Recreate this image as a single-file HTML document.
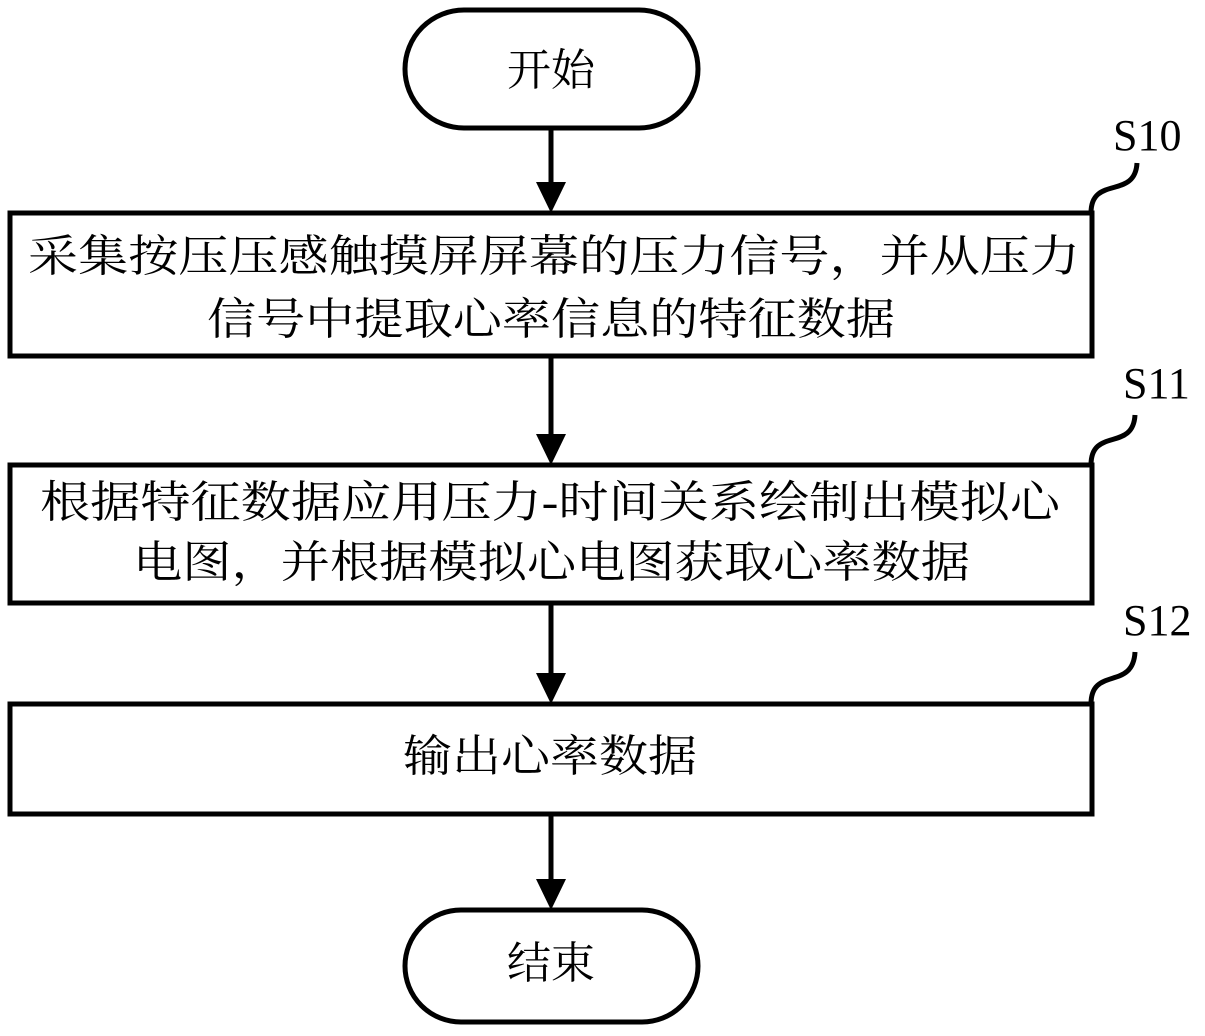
<!DOCTYPE html>
<html><head><meta charset="utf-8"><style>
html,body{margin:0;padding:0;background:#fff;}
svg text{font-family:"Liberation Serif","Noto Serif CJK SC",serif;fill:#000;}
</style></head><body>
<svg width="1205" height="1031" viewBox="0 0 1205 1031" xmlns="http://www.w3.org/2000/svg">
<defs><marker id="a" markerWidth="10" markerHeight="10" refX="10" refY="5" orient="auto" markerUnits="userSpaceOnUse"><path d="M0,0 L10,5 L0,10Z"/></marker></defs>
<g fill="none" stroke="#000" stroke-width="5">
<rect x="405" y="10" width="293" height="118" rx="59"/>
<rect x="10" y="213" width="1082" height="143"/>
<rect x="10" y="465" width="1082" height="138"/>
<rect x="10" y="704" width="1082" height="110"/>
<rect x="405" y="910" width="293" height="112" rx="56"/>
<path d="M1091,213 C1091,175 1135,200 1137,163"/>
<path d="M1091,465 C1091,427 1133,452 1135,415"/>
<path d="M1091,704 C1091,666 1133,691 1135,652"/>
<line x1="551" y1="128" x2="551" y2="185"/>
<line x1="551" y1="356" x2="551" y2="437"/>
<line x1="551" y1="603" x2="551" y2="676"/>
<line x1="551" y1="814" x2="551" y2="882"/>
</g>
<g fill="#000">
<path d="M536,182 L566,182 L551,213Z"/>
<path d="M536,434 L566,434 L551,465Z"/>
<path d="M536,673 L566,673 L551,704Z"/>
<path d="M536,879 L566,879 L551,910Z"/>
</g>
<g font-size="44">
<text x="551" y="85" text-anchor="middle">开始</text>
<text x="28" y="271" textLength="1052" lengthAdjust="spacingAndGlyphs">采集按压压感触摸屏屏幕的压力信号，并从压力</text>
<text x="207" y="334" textLength="688" lengthAdjust="spacingAndGlyphs">信号中提取心率信息的特征数据</text>
<text x="40" y="517" textLength="1020" lengthAdjust="spacingAndGlyphs">根据特征数据应用压力-时间关系绘制出模拟心</text>
<text x="133" y="577" textLength="837" lengthAdjust="spacingAndGlyphs">电图，并根据模拟心电图获取心率数据</text>
<text x="403" y="771" textLength="294" lengthAdjust="spacingAndGlyphs">输出心率数据</text>
<text x="551" y="978" text-anchor="middle">结束</text>
<text x="1113" y="150" font-size="44">S10</text>
<text x="1123" y="398" font-size="44">S11</text>
<text x="1123" y="635" font-size="44">S12</text>
</g>
</svg>
</body></html>
